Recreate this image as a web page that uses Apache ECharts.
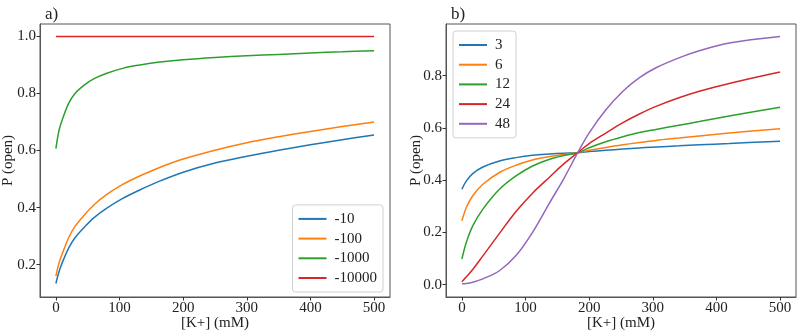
<!DOCTYPE html>
<html>
<head>
<meta charset="utf-8">
<script src="https://cdn.jsdelivr.net/npm/echarts@6/dist/echarts.min.js"></script>
<style>html,body{margin:0;padding:0;background:#fff}#c{width:800px;height:333px}</style>
</head>
<body>
<div id="c"></div>
<script>
// Panel a)
const kA = [0, 5, 10, 20, 30, 45, 60, 80, 105, 130, 160, 200, 250, 300, 350, 400, 450, 500];
const a_m10    = [0.134, 0.176, 0.207, 0.258, 0.294, 0.332, 0.365, 0.398, 0.432, 0.460, 0.490, 0.524, 0.556, 0.580, 0.601, 0.620, 0.638, 0.654];
const a_m100   = [0.160, 0.207, 0.238, 0.294, 0.334, 0.375, 0.410, 0.446, 0.481, 0.509, 0.538, 0.570, 0.601, 0.627, 0.648, 0.667, 0.684, 0.700];
const a_m1000  = [0.607, 0.672, 0.708, 0.765, 0.800, 0.830, 0.852, 0.871, 0.888, 0.899, 0.909, 0.918, 0.926, 0.932, 0.937, 0.942, 0.946, 0.950];
const a_m10000 = [1.000, 1.000, 1.000, 1.000, 1.000, 1.000, 1.000, 1.000, 1.000, 1.000, 1.000, 1.000, 1.000, 1.000, 1.000, 1.000, 1.000, 1.000];
const namesA = ['-10', '-100', '-1000', '-10000'];

// Panel b)
const kB = [0, 7, 17, 33, 59, 85, 111, 138, 160, 182, 200, 226, 253, 279, 305, 341, 373, 420, 500];
const b_3  = [0.365, 0.397, 0.425, 0.450, 0.473, 0.486, 0.495, 0.500, 0.503, 0.505, 0.509, 0.514, 0.519, 0.523, 0.527, 0.531, 0.535, 0.540, 0.549];
const b_6  = [0.244, 0.295, 0.340, 0.384, 0.429, 0.457, 0.477, 0.490, 0.498, 0.505, 0.514, 0.525, 0.535, 0.544, 0.552, 0.561, 0.569, 0.580, 0.597];
const b_12 = [0.098, 0.162, 0.225, 0.289, 0.365, 0.416, 0.454, 0.480, 0.494, 0.505, 0.524, 0.547, 0.566, 0.582, 0.594, 0.610, 0.624, 0.645, 0.679];
const b_24 = [0.011, 0.030, 0.058, 0.110, 0.196, 0.280, 0.350, 0.412, 0.462, 0.505, 0.540, 0.580, 0.620, 0.653, 0.682, 0.715, 0.740, 0.770, 0.814];
const b_48 = [0.003, 0.004, 0.009, 0.022, 0.053, 0.111, 0.200, 0.314, 0.405, 0.505, 0.581, 0.668, 0.740, 0.792, 0.830, 0.868, 0.895, 0.925, 0.950];
const namesB = ['3', '6', '12', '24', '48'];

const xTicks = [0, 100, 200, 300, 400, 500];
const yTicksA = [0.2, 0.4, 0.6, 0.8, 1.0];
const yTicksB = [0.0, 0.2, 0.4, 0.6, 0.8];

const colors = ['#1f77b4', '#ff7f0e', '#2ca02c', '#d62728', '#9467bd'];
const FONT = '"Liberation Serif", "DejaVu Serif", serif';
const AX = '#333';

function pairs(xs, ys) { return xs.map((x, i) => [x, ys[i]]); }

function xAxis(idx) {
  return {
    type: 'value', gridIndex: idx, min: -25, max: 525,
    name: '[K+] (mM)', nameLocation: 'middle', nameGap: 19, nameMoveOverlap: false,
    nameTextStyle: { fontFamily: FONT, fontSize: 15, color: '#222', verticalAlign: 'top' },
    axisLine: { show: true, onZero: false, lineStyle: { color: '#555' } },
    splitLine: { show: false },
    axisTick: { show: true, length: 3.5, lineStyle: { color: AX }, customValues: xTicks },
    axisLabel: { fontFamily: FONT, fontSize: 15, color: '#222', margin: 4, customValues: xTicks }
  };
}
function yAxis(idx, min, max, ticks, gap) {
  return {
    type: 'value', gridIndex: idx, min: min, max: max,
    name: 'P (open)', nameLocation: 'middle', nameGap: gap, nameMoveOverlap: false,
    nameTextStyle: { fontFamily: FONT, fontSize: 15, color: '#222' },
    axisLine: { show: true, onZero: false, lineStyle: { color: '#555' } },
    splitLine: { show: false },
    axisTick: { show: true, length: 3.5, lineStyle: { color: AX }, customValues: ticks },
    axisLabel: { fontFamily: FONT, fontSize: 15, color: '#222', margin: 4, customValues: ticks,
      formatter: v => v.toFixed(1) }
  };
}

const seriesA = [a_m10, a_m100, a_m1000, a_m10000].map((d, i) => ({
  name: namesA[i], type: 'line', xAxisIndex: 0, yAxisIndex: 0,
  data: pairs(kA, d), smooth: 0.35, showSymbol: false, symbol: 'none',
  lineStyle: { width: 1.5, color: colors[i] }, itemStyle: { color: colors[i] }
}));
const seriesB = [b_3, b_6, b_12, b_24, b_48].map((d, i) => ({
  name: namesB[i], type: 'line', xAxisIndex: 1, yAxisIndex: 1,
  data: pairs(kB, d), smooth: 0.35, showSymbol: false, symbol: 'none',
  lineStyle: { width: 1.5, color: colors[i] }, itemStyle: { color: colors[i] }
}));

const legendCommon = {
  orient: 'vertical', icon: 'rect', itemWidth: 28, itemHeight: 2, itemGap: 3.7,
  backgroundColor: 'rgba(255,255,255,0.8)', borderColor: '#d0d0d0', borderWidth: 1, borderRadius: 3,
  textStyle: { fontFamily: FONT, fontSize: 15, color: '#222', lineHeight: 16, padding: [0, 0, 0, 3] }
};

const chart = echarts.init(document.getElementById('c'), null, { renderer: 'canvas' });
chart.setOption({
  animation: false,
  backgroundColor: '#fff',
  title: [
    { text: 'a)', left: 40, top: 1, textStyle: { fontFamily: FONT, fontSize: 17, fontWeight: 'normal', color: '#222' } },
    { text: 'b)', left: 446, top: 1, textStyle: { fontFamily: FONT, fontSize: 17, fontWeight: 'normal', color: '#222' } }
  ],
  grid: [
    { left: 40, right: 410, top: 24, bottom: 36, outerBoundsMode: 'none', containLabel: false, show: true, borderColor: '#555', borderWidth: 1, backgroundColor: 'transparent' },
    { left: 446, right: 4, top: 24, bottom: 36, outerBoundsMode: 'none', containLabel: false, show: true, borderColor: '#555', borderWidth: 1, backgroundColor: 'transparent' }
  ],
  xAxis: [xAxis(0), xAxis(1)],
  yAxis: [yAxis(0, 0.0865, 1.0435, yTicksA, 24), yAxis(1, -0.0475, 0.9975, yTicksB, 22)],
  legend: [
    Object.assign({}, legendCommon, { data: namesA, right: 410 + 7, bottom: 36 + 5, padding: [6, 6, 6, 6] }),
    Object.assign({}, legendCommon, { data: namesB, left: 453, top: 31, padding: [6, 6, 6, 6] })
  ],
  series: seriesA.concat(seriesB)
});
</script>
</body>
</html>
